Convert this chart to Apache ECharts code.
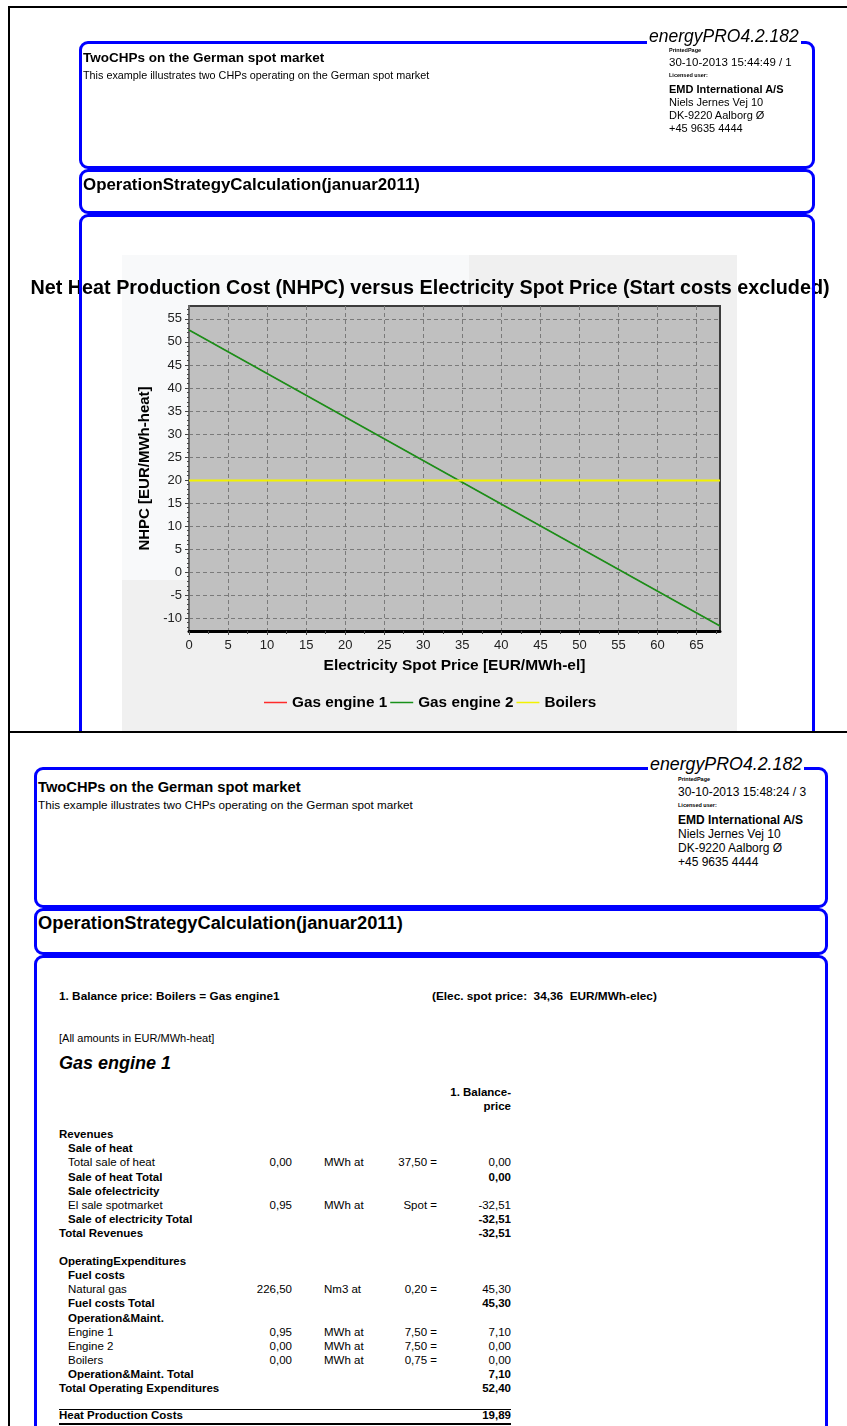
<!DOCTYPE html>
<html><head><meta charset="utf-8"><title>NHPC versus Electricity Spot Price</title>
<script src="https://cdn.jsdelivr.net/npm/echarts@6.0.0/dist/echarts.min.js"></script>
<style>
*{box-sizing:border-box;}
html,body{margin:0;padding:0;background:#fff;}
body{position:relative;width:847px;height:1426px;overflow:hidden;font-family:"Liberation Sans",Arial,sans-serif;color:#000;}
.page{position:absolute;left:0;width:847px;overflow:hidden;background:#fff;}
#p1{top:0;height:733px;}
#p2{top:733px;height:693px;}
.t{position:absolute;white-space:nowrap;line-height:1;z-index:6;}
.b{font-weight:bold;}
.box{position:absolute;border:3px solid #0000ff;border-radius:9px;pointer-events:none;z-index:5;}
.tag{position:absolute;white-space:nowrap;line-height:1;font-style:italic;background:#fff;padding:0 2px;z-index:6;}
.rule{position:absolute;background:#000;z-index:6;}
</style></head><body>
<div class="page" id="p1">
  <div style="position:absolute;left:8px;top:6px;width:2000px;height:727px;border:2px solid #000;z-index:7"></div>
  <div style="position:absolute;left:122px;top:255px;width:615px;height:480px;background:#f0f0f0"></div>
  <div style="position:absolute;left:122px;top:255px;width:347px;height:325px;background:#f8f9fa"></div>
  <div id="chart" style="position:absolute;left:0;top:0;width:847px;height:733px;z-index:2"></div>
  <div class="box" style="left:79px;top:41px;width:736px;height:128px"></div>
  <div class="box" style="left:79px;top:169px;width:736px;height:45px"></div>
  <div class="box" style="left:79px;top:214px;width:736px;height:700px"></div>
  <span class="tag" style="left:647px;top:28px;font-size:17.5px">energyPRO4.2.182</span>
  <span class="t b" style="left:83px;top:51px;font-size:13.5px">TwoCHPs on the German spot market</span>
  <span class="t" style="left:83px;top:70px;font-size:10.8px">This example illustrates two CHPs operating on the German spot market</span>
  <span class="t b" style="left:669px;top:48px;font-size:5.5px">PrintedPage</span>
  <span class="t" style="left:669px;top:57px;font-size:11.5px">30-10-2013 15:44:49 / 1</span>
  <span class="t b" style="left:669px;top:73px;font-size:5.5px">Licensed user:</span>
  <span class="t b" style="left:669px;top:83.5px;font-size:11px">EMD International A/S</span>
  <span class="t" style="left:669px;top:96.5px;font-size:11px">Niels Jernes Vej 10</span>
  <span class="t" style="left:669px;top:109.5px;font-size:11px">DK-9220 Aalborg Ø</span>
  <span class="t" style="left:669px;top:122.5px;font-size:11px">+45 9635 4444</span>
  <span class="t b" style="left:83px;top:177px;font-size:16.9px">OperationStrategyCalculation(januar2011)</span>
</div>
<div class="page" id="p2">
  <div style="position:absolute;left:8px;top:0;width:2px;height:700px;background:#000;z-index:7"></div>
  <div class="box" style="left:34px;top:34px;width:794px;height:141px"></div>
  <div class="box" style="left:34px;top:175px;width:794px;height:47px"></div>
  <div class="box" style="left:34px;top:222px;width:794px;height:700px"></div>
  <span class="tag" style="left:648px;top:23px;font-size:17.8px">energyPRO4.2.182</span>
  <span class="t b" style="left:38px;top:47px;font-size:14.7px">TwoCHPs on the German spot market</span>
  <span class="t" style="left:38px;top:66px;font-size:11.7px">This example illustrates two CHPs operating on the German spot market</span>
  <span class="t b" style="left:678px;top:44px;font-size:5.5px">PrintedPage</span>
  <span class="t" style="left:678px;top:53px;font-size:12px">30-10-2013 15:48:24 / 3</span>
  <span class="t b" style="left:678px;top:70px;font-size:5.5px">Licensed user:</span>
  <span class="t b" style="left:678px;top:81px;font-size:12px">EMD International A/S</span>
  <span class="t" style="left:678px;top:95px;font-size:12px">Niels Jernes Vej 10</span>
  <span class="t" style="left:678px;top:109px;font-size:12px">DK-9220 Aalborg Ø</span>
  <span class="t" style="left:678px;top:123px;font-size:12px">+45 9635 4444</span>
  <span class="t b" style="left:38px;top:181px;font-size:18.3px">OperationStrategyCalculation(januar2011)</span>
  <span class="t b" style="left:59px;top:258px;font-size:11.8px">1. Balance price: Boilers = Gas engine1</span>
  <span class="t b" style="left:432px;top:258px;font-size:11.8px">(Elec. spot price:&nbsp; 34,36&nbsp; EUR/MWh-elec)</span>
  <span class="t" style="left:59px;top:299.5px;font-size:11px">[All amounts in EUR/MWh-heat]</span>
  <span class="t b" style="left:59px;top:321px;font-size:18px;font-style:italic">Gas engine 1</span>
  <span class="t b" style="right:336px;top:354px;font-size:11.5px;text-align:right">1. Balance-</span>
  <span class="t b" style="right:336px;top:368px;font-size:11.5px;text-align:right">price</span>
  <div id="table"></div>
</div>
<script>
// ---------- chart data ----------
const chartTitle = 'Net Heat Production Cost (NHPC) versus Electricity Spot Price (Start costs excluded)';
const xAxisTitle = 'Electricity Spot Price [EUR/MWh-el]';
const yAxisTitle = 'NHPC [EUR/MWh-heat]';
const seriesNames = ['Gas engine 1', 'Gas engine 2', 'Boilers'];
const seriesColors = ['#ff2a2a', '#18911a', '#f2f200'];
const spotPrice = [0, 68];
const gasEngine1 = [52.6, -11.7];
const gasEngine2 = [52.6, -11.7];
const boilers = [19.9, 19.9];
const xRange = [0, 68];
const yRange = [-12.8, 57.8];
const xTickLabels = [0, 5, 10, 15, 20, 25, 30, 35, 40, 45, 50, 55, 60, 65];
const yTickLabels = [-10, -5, 0, 5, 10, 15, 20, 25, 30, 35, 40, 45, 50, 55];
const xMinorTicks = [2.5, 7.5, 12.5, 17.5, 22.5, 27.5, 32.5, 37.5, 42.5, 47.5, 52.5, 57.5, 62.5, 67.5];
const yMinorTicks = [-12, -11, -9, -8, -7, -6, -4, -3, -2, -1, 1, 2, 3, 4, 6, 7, 8, 9, 11, 12, 13, 14, 16, 17, 18, 19, 21, 22, 23, 24, 26, 27, 28, 29, 31, 32, 33, 34, 36, 37, 38, 39, 41, 42, 43, 44, 46, 47, 48, 49, 51, 52, 53, 54, 56, 57];

// ---------- table data ----------
const rowLabels = ['Revenues', 'Sale of heat', 'Total sale of heat', 'Sale of heat Total', 'Sale ofelectricity', 'El sale spotmarket', 'Sale of electricity Total', 'Total Revenues', '', 'OperatingExpenditures', 'Fuel costs', 'Natural gas', 'Fuel costs Total', 'Operation&Maint.', 'Engine 1', 'Engine 2', 'Boilers', 'Operation&Maint. Total', 'Total Operating Expenditures'];
const rowIndent = [0, 1, 1, 1, 1, 1, 1, 0, 0, 0, 1, 1, 1, 1, 1, 1, 1, 1, 0];
const rowBold = [1, 1, 0, 1, 1, 0, 1, 1, 0, 1, 1, 0, 1, 1, 0, 0, 0, 1, 1];
const rowQty = ['', '', '0,00', '', '', '0,95', '', '', '', '', '', '226,50', '', '', '0,95', '0,00', '0,00', '', ''];
const rowUnit = ['', '', 'MWh at', '', '', 'MWh at', '', '', '', '', '', 'Nm3 at', '', '', 'MWh at', 'MWh at', 'MWh at', '', ''];
const rowPrice = ['', '', '37,50 =', '', '', 'Spot =', '', '', '', '', '', '0,20 =', '', '', '7,50 =', '7,50 =', '0,75 =', '', ''];
const rowValue = ['', '', '0,00', '0,00', '', '-32,51', '-32,51', '-32,51', '', '', '', '45,30', '45,30', '', '7,10', '0,00', '0,00', '7,10', '52,40'];
const totalLabel = 'Heat Production Costs';
const totalValue = '19,89';

// ---------- table rendering ----------
(function () {
  const host = document.getElementById('table');
  const P2 = 733, fs = 11.5;
  function span(txt, css) {
    const s = document.createElement('span');
    s.className = 't';
    s.textContent = txt;
    s.style.cssText = 'font-size:' + fs + 'px;' + css;
    host.appendChild(s);
  }
  rowLabels.forEach(function (lab, i) {
    const top = (1135 + i * 14.1) - P2 - fs / 2;
    const bw = rowBold[i] ? 'font-weight:bold;' : '';
    if (lab) span(lab, bw + 'left:' + (rowIndent[i] ? 68 : 59) + 'px;top:' + top + 'px');
    if (rowQty[i]) span(rowQty[i], 'right:' + (847 - 292) + 'px;top:' + top + 'px');
    if (rowUnit[i]) span(rowUnit[i], 'left:324px;top:' + top + 'px');
    if (rowPrice[i]) span(rowPrice[i], 'right:' + (847 - 437) + 'px;top:' + top + 'px');
    if (rowValue[i]) span(rowValue[i], bw + 'right:' + (847 - 511) + 'px;top:' + top + 'px');
  });
  const tt = 1416 - P2 - fs / 2;
  span(totalLabel, 'font-weight:bold;left:59px;top:' + tt + 'px');
  span(totalValue, 'font-weight:bold;right:' + (847 - 511) + 'px;top:' + tt + 'px');
  const r1 = document.createElement('div'); r1.className = 'rule';
  r1.style.cssText = 'left:59px;width:452px;top:' + (1409 - P2) + 'px;height:1px;';
  host.appendChild(r1);
  const r2 = document.createElement('div'); r2.className = 'rule';
  r2.style.cssText = 'left:59px;width:452px;top:' + (1423 - P2) + 'px;height:2px;';
  host.appendChild(r2);
})();

// ---------- chart ----------
const FONT = '"Liberation Sans", Arial, sans-serif';
const chart = echarts.init(document.getElementById('chart'), null, { renderer: 'canvas', width: 847, height: 733 });
const seriesData = [gasEngine1, gasEngine2, boilers];
chart.setOption({
  animation: false,
  backgroundColor: 'transparent',
  textStyle: { fontFamily: FONT },
  title: {
    text: chartTitle, left: 425, top: 274, textAlign: 'center',
    textStyle: { fontFamily: FONT, fontSize: 19.8, fontWeight: 'bold', color: '#000' }
  },
  legend: {
    data: seriesNames, left: 259, top: 690, icon: 'rect', itemWidth: 23, itemHeight: 1.5, itemGap: 3,
    textStyle: { fontFamily: FONT, fontSize: 15.3, fontWeight: 'bold', color: '#000' }
  },
  grid: {
    left: 189, top: 306, width: 531, height: 325, show: true,
    backgroundColor: '#c0c0c0', borderColor: '#3c3c3c', borderWidth: 2
  },
  xAxis: [{
    type: 'value', min: xRange[0], max: xRange[1], position: 'bottom',
    axisLine: { show: true, onZero: false, lineStyle: { color: '#000', width: 3 } },
    axisTick: { show: true, length: 4, customValues: xTickLabels, lineStyle: { color: '#444' } },
    axisLabel: { customValues: xTickLabels, margin: 8, fontSize: 13, color: '#222', fontFamily: FONT },
    splitLine: { show: true, lineStyle: { type: [4, 3], color: '#7a7a7a', width: 1 } },
    name: xAxisTitle, nameLocation: 'middle', nameGap: 27,
    nameTextStyle: { fontFamily: FONT, fontSize: 15.5, fontWeight: 'bold', color: '#000' }
  }, {
    type: 'value', min: xRange[0], max: xRange[1], position: 'bottom',
    axisLine: { show: false, onZero: false },
    axisTick: { show: true, length: 3, customValues: xMinorTicks, lineStyle: { color: '#444' } },
    axisLabel: { show: false }, splitLine: { show: false }
  }],
  yAxis: [{
    type: 'value', min: yRange[0], max: yRange[1], position: 'left',
    axisLine: { show: true, onZero: false, lineStyle: { color: '#6a6a6a', width: 2 } },
    axisTick: { show: true, length: 4, customValues: yTickLabels, lineStyle: { color: '#444' } },
    axisLabel: { customValues: yTickLabels, margin: 7, fontSize: 13, color: '#222', fontFamily: FONT },
    splitLine: { show: true, lineStyle: { type: [4, 3], color: '#7a7a7a', width: 1 } },
    name: yAxisTitle, nameLocation: 'middle', nameGap: 30, nameRotate: 90,
    nameTextStyle: { fontFamily: FONT, fontSize: 15, fontWeight: 'bold', color: '#000' }
  }, {
    type: 'value', min: yRange[0], max: yRange[1], position: 'left',
    axisLine: { show: false, onZero: false },
    axisTick: { show: true, length: 2, customValues: yMinorTicks, lineStyle: { color: '#444' } },
    axisLabel: { show: false }, splitLine: { show: false }
  }],
  series: seriesNames.map(function (name, k) {
    return {
      name: name, type: 'line', xAxisIndex: 0, yAxisIndex: 0,
      data: spotPrice.map(function (x, i) { return [x, seriesData[k][i]]; }),
      symbol: 'none', z: 3 + k,
      lineStyle: { color: seriesColors[k], width: k === 2 ? 2 : (k === 1 ? 1.6 : 1) },
      itemStyle: { color: seriesColors[k] }
    };
  })
});
</script>
</body></html>
